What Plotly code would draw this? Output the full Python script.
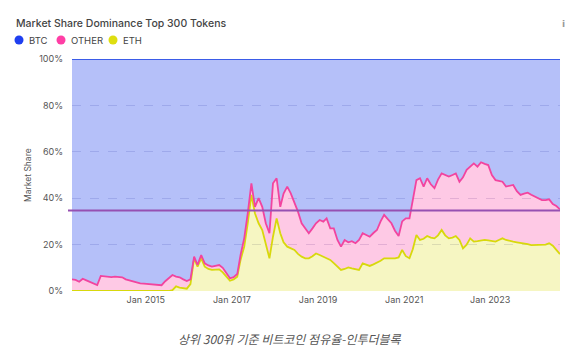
import pandas as pd
import plotly.graph_objects as go

# Monthly points, Apr 2013 - Aug 2024
dates = pd.date_range("2013-04-01", "2024-08-01", freq="MS") + pd.Timedelta(days=14)

# Stacked top of ETH + OTHER (%)
eth_plus_other = [
    5.0, 4.8, 4.0, 5.3, 4.6, 4.0, 3.2, 2.6, 6.5,
    6.3, 6.2, 6.0, 6.2, 5.9, 5.9, 5.0, 4.5, 4.0, 3.5, 3.3, 3.2,
    3.0, 2.9, 2.7, 2.6, 2.5, 4.2, 5.5, 6.9, 6.2, 5.9, 5.0, 4.3,
    5.0, 14.8, 11.2, 15.5, 11.9, 11.0, 10.5, 10.8, 11.2, 10.0, 7.6, 5.5,
    6.0, 7.3, 15.5, 22.7, 33.5, 46.4, 36.3, 40.0, 36.3, 29.2, 24.9, 46.4,
    48.6, 36.3, 42.0, 45.0, 42.1, 38.0, 34.2, 29.2, 27.0, 24.9, 27.0, 29.2,
    30.6, 29.9, 31.3, 27.0, 27.0, 22.0, 19.1, 22.0, 21.0, 21.5, 20.6, 22.0,
    24.9, 24.0, 23.4, 25.0, 26.3, 30.0, 32.8, 31.0, 29.2, 26.0, 23.7, 30.0,
    31.3, 31.3, 40.0, 47.8, 48.6, 45.0, 48.6, 46.0, 44.3, 48.0, 50.7, 50.0,
    49.3, 50.0, 50.7, 47.1, 49.0, 52.2, 53.5, 55.0, 53.6, 55.5, 54.8, 54.3,
    50.0, 47.8, 47.5, 47.1, 45.0, 45.5, 45.7, 43.0, 41.4, 42.0, 42.4, 41.5,
    40.6, 40.0, 39.2, 39.2, 39.5, 37.5, 36.6, 35.2,
]

# ETH share (%)
eth = [
    0, 0, 0, 0, 0, 0, 0, 0, 0,
    0, 0, 0, 0, 0, 0, 0, 0, 0, 0, 0, 0,
    0, 0, 0, 0, 0, 0, 0, 0.4, 2.0, 1.5, 1.2, 1.0,
    3.0, 14.1, 10.5, 14.1, 10.5, 9.5, 9.1, 9.2, 9.3, 8.0, 6.2, 4.4,
    5.0, 6.2, 13.4, 19.1, 29.2, 41.4, 33.5, 29.2, 26.3, 20.6, 14.1, 23.4,
    31.3, 24.9, 21.0, 19.1, 18.5, 17.7, 16.0, 14.8, 14.1, 14.1, 15.0, 16.2,
    15.5, 14.8, 14.1, 13.4, 12.0, 10.5, 9.1, 9.5, 10.2, 9.8, 9.5, 9.1,
    11.9, 11.5, 10.8, 11.5, 12.2, 13.0, 14.1, 14.1, 14.0, 14.1, 14.5, 17.7,
    15.0, 14.1, 18.0, 24.1, 22.0, 22.5, 23.7, 23.0, 22.7, 24.0, 26.3, 24.0,
    22.7, 23.0, 23.7, 22.0, 18.4, 20.0, 22.7, 21.3, 21.5, 21.8, 22.0, 21.8,
    21.5, 21.3, 22.0, 22.7, 22.0, 21.5, 21.3, 21.0, 20.8, 20.6, 20.2, 19.8,
    19.8, 19.8, 19.8, 20.0, 20.6, 19.5, 17.7, 15.9,
]

other = [t - e for t, e in zip(eth_plus_other, eth)]
btc = [100 - t for t in eth_plus_other]

reference_level = 34.7
y_ticks = [0, 20, 40, 60, 80, 100]
legend_names = ["BTC", "OTHER", "ETH"]
legend_colors = ["#1f3ff0", "#ff3ea5", "#dede10"]

# plot area in pixels
L, R, T, B = 72, 560, 59, 291
W, H = R - L, B - T
def px(x):
    return (x - L) / W
def py(y):
    return (B - y) / H

fig = go.Figure()
fig.add_trace(go.Scatter(x=dates, y=eth, stackgroup="one", mode="lines",
                         line=dict(color="#d8d80c", width=1.8),
                         fillcolor="rgba(220,220,30,0.27)", name="ETH", showlegend=False))
fig.add_trace(go.Scatter(x=dates, y=other, stackgroup="one", mode="lines",
                         line=dict(color="#f2449f", width=1.8),
                         fillcolor="rgba(250,60,160,0.28)", name="OTHER", showlegend=False))
fig.add_trace(go.Scatter(x=dates, y=btc, stackgroup="one", mode="lines",
                         line=dict(color="#3b5ce8", width=2),
                         fillcolor="rgba(60,90,240,0.38)", name="BTC", showlegend=False))

shapes = [dict(type="line", xref="paper", yref="y", x0=px(68), x1=1.0,
               y0=reference_level, y1=reference_level,
               line=dict(color="#9650b2", width=2))]
annotations = []
lx = [19, 61, 113]
for name, col, cx in zip(legend_names, legend_colors, lx):
    shapes.append(dict(type="circle", xref="paper", yref="paper",
                       xsizemode="pixel", ysizemode="pixel",
                       xanchor=px(cx), yanchor=py(40),
                       x0=-4.5, x1=4.5, y0=-4.5, y1=4.5,
                       fillcolor=col, line=dict(width=0)))
    annotations.append(dict(text=name, xref="paper", yref="paper",
                            x=px(cx + 8), y=py(40.5), xanchor="left", yanchor="middle",
                            showarrow=False, font=dict(size=9.5, color="#444",
                                                       family="Inter, Noto Sans, sans-serif")))

annotations.append(dict(text="Market Share Dominance Top 300 Tokens", xref="paper", yref="paper",
                        x=px(14), y=py(24), xanchor="left", yanchor="middle", showarrow=False,
                        font=dict(size=10.5, color="#444", family="Inter, Noto Sans, sans-serif",
                                  weight=500)))
annotations.append(dict(text="Market Share", xref="paper", yref="paper",
                        x=px(28), y=py(175), xanchor="center", yanchor="middle", textangle=-90,
                        showarrow=False, font=dict(size=8.5, color="#555",
                                                   family="Inter, Noto Sans, sans-serif")))
annotations.append(dict(text="i", xref="paper", yref="paper",
                        x=px(563), y=py(24), xanchor="center", yanchor="middle",
                        showarrow=False, font=dict(size=9, color="#999",
                                                   family="DejaVu Sans", weight=700)))
annotations.append(dict(text="<i>상위 300위 기준 비트코인 점유율-인투더블록</i>", xref="paper", yref="paper",
                        x=px(290), y=py(338), xanchor="center", yanchor="middle",
                        showarrow=False, font=dict(size=12, color="#555",
                                                   family="Noto Sans CJK KR")))

fig.update_layout(
    width=587, height=355,
    margin=dict(l=L, r=587 - R, t=T, b=355 - B),
    paper_bgcolor="white", plot_bgcolor="white",
    showlegend=False,
    shapes=shapes, annotations=annotations,
    font=dict(family="Inter, Noto Sans, sans-serif", color="#555"),
)
fig.update_xaxes(range=[dates[0], dates[-1]], tick0="2015-01-01", dtick="M24",
                 tickformat="%b %Y", showgrid=False, showline=False, zeroline=False,
                 ticks="", ticklabelstandoff=2, tickfont=dict(size=9, color="#555"))
fig.update_yaxes(range=[0, 100], tickvals=y_ticks, ticktext=[f"{v}%" for v in y_ticks],
                 showgrid=True, gridcolor="rgba(150,150,190,0.35)", griddash="dash",
                 zeroline=False, showline=False, ticks="", ticklabelstandoff=8,
                 tickfont=dict(size=9, color="#555"))

fig.write_html("out.html")
